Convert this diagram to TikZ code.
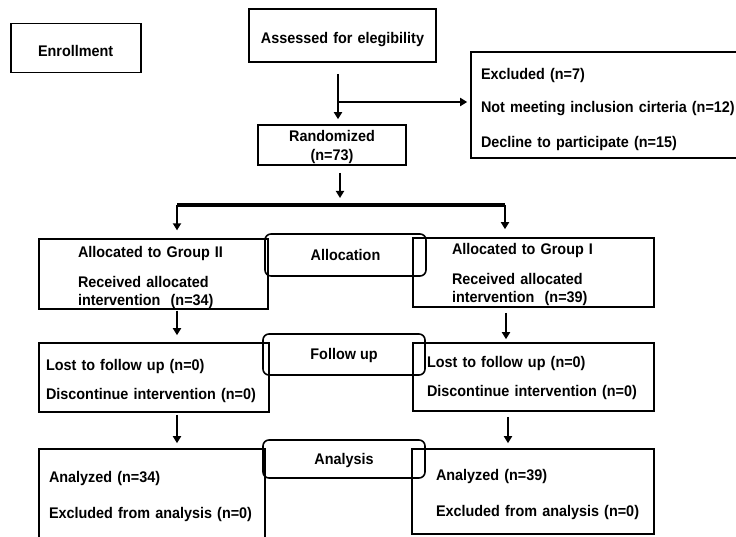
\documentclass[tikz,border=0pt]{standalone}
\usepackage{fontspec}
\setmainfont{Liberation Sans}[FakeStretch=0.935]
\usetikzlibrary{arrows.meta,calc}
\tikzset{>={Triangle[length=7pt,width=8pt]}}

\begin{document}
\begin{tikzpicture}[x=1pt,y=-1pt,
    box/.style={draw, line width=1.6pt, align=left, inner ysep=0pt,
      font=\bfseries\fontsize{15.4}{18}\selectfont},
    rbox/.style={box, rounded corners=6pt, align=center},
    arr/.style={->, line width=2.6pt},
    bar/.style={line width=4pt}]
    \useasboundingbox (0,0) rectangle (736,537);

    \node[box, inner xsep=27pt, text width=76pt, text height=17pt, minimum height=49pt] (enroll) at (76,48) {Enrollment};
    \node[box, align=center, inner xsep=0pt, text width=187pt, text height=19pt, minimum height=53pt] (assess) at (342.5,35.5) {Assessed for elegibility};
    \node[box, inner xsep=10pt, text width=269pt, text height=21pt, minimum height=106pt] (excl) at (615.5,105)
        {Excluded (n=7)\\[15pt]Not meeting inclusion cirteria (n=12)\\[17pt]Decline to participate (n=15)};
    \node[box, align=center, inner xsep=0pt, text width=148pt, text height=16pt, minimum height=40pt] (rand) at (332,145) {Randomized\\[1pt](n=73)};

    \node[box, inner xsep=39pt, text width=151pt, text height=18.5pt, minimum height=68pt] (alloc2) at (153.5,274)
        {Allocated to Group II\\[12pt]Received allocated\\intervention\ \ (n=34)};
    \node[box, inner xsep=39pt, text width=163pt, text height=15pt, minimum height=69pt] (alloc1) at (533.5,272.5)
        {Allocated to Group I\\[12pt]Received allocated\\intervention\ \ (n=39)};
    \node[box, inner xsep=7pt, text width=216pt, text height=19pt, minimum height=69pt] (follow2) at (154,377.5)
        {Lost to follow up (n=0)\\[11pt]Discontinue intervention (n=0)};
    \node[box, inner xsep=14pt, text width=213pt, text height=14pt, minimum height=68pt] (follow1) at (533.5,377)
        {Lost to follow up (n=0)\\[11pt]Discontinue intervention (n=0)};
    \node[box, inner xsep=10pt, text width=206pt, minimum height=96pt] (anal2) at (152,497)
        {Analyzed (n=34)\\[18pt]Excluded from analysis (n=0)};
    \node[box, inner xsep=24pt, text width=194pt, text height=18pt, minimum height=85pt] (anal1) at (533,491.5)
        {Analyzed (n=39)\\[18pt]\mbox{Excluded from analysis (n=0)}};

    \node[rbox, minimum width=161pt, minimum height=42pt] (allocr) at (345.5,255) {Allocation};
    \node[rbox, text height=13pt, minimum width=162pt, minimum height=41pt] (followr) at (344,354.5) {Follow up};
    \node[rbox, text height=14pt, minimum width=162pt, minimum height=38pt] (analr) at (344,459) {Analysis};

    % trunk and split
    \coordinate (split) at (338,102);
    \coordinate (barL) at (177,205);
    \coordinate (barR) at (505,205);
    \draw[arr, shorten <=11pt, shorten >=5pt] ([xshift=-4.5pt]assess.south) -- ([xshift=-4.5pt]assess.south |- rand.north);
    \draw[arr, shorten >=3pt] (split) -- (split -| excl.west);
    \draw[arr, shorten <=7pt, shorten >=7pt] ([xshift=8pt]rand.south) -- ([xshift=8pt]rand.south |- barL);
    \draw[bar] (barL) -- (barR);
    \draw[arr, shorten >=8pt] (barL) -- (barL |- alloc2.north);
    \draw[arr, shorten >=8pt] (barR) -- (barR |- alloc1.north);

    \draw[arr, shorten <=1pt, shorten >=7pt] ([xshift=23.5pt]alloc2.south) -- ([xshift=23.5pt]alloc2.south |- follow2.north);
    \draw[arr, shorten <=5pt, shorten >=3pt] ([xshift=-27.5pt]alloc1.south) -- ([xshift=-27.5pt]alloc1.south |- follow1.north);
    \draw[arr, shorten <=2pt, shorten >=5pt] ([xshift=23pt]follow2.south) -- ([xshift=23pt]follow2.south |- anal2.north);
    \draw[arr, shorten <=5pt, shorten >=5pt] ([xshift=-25.5pt]follow1.south) -- ([xshift=-25.5pt]follow1.south |- anal1.north);
\end{tikzpicture}
\end{document}
